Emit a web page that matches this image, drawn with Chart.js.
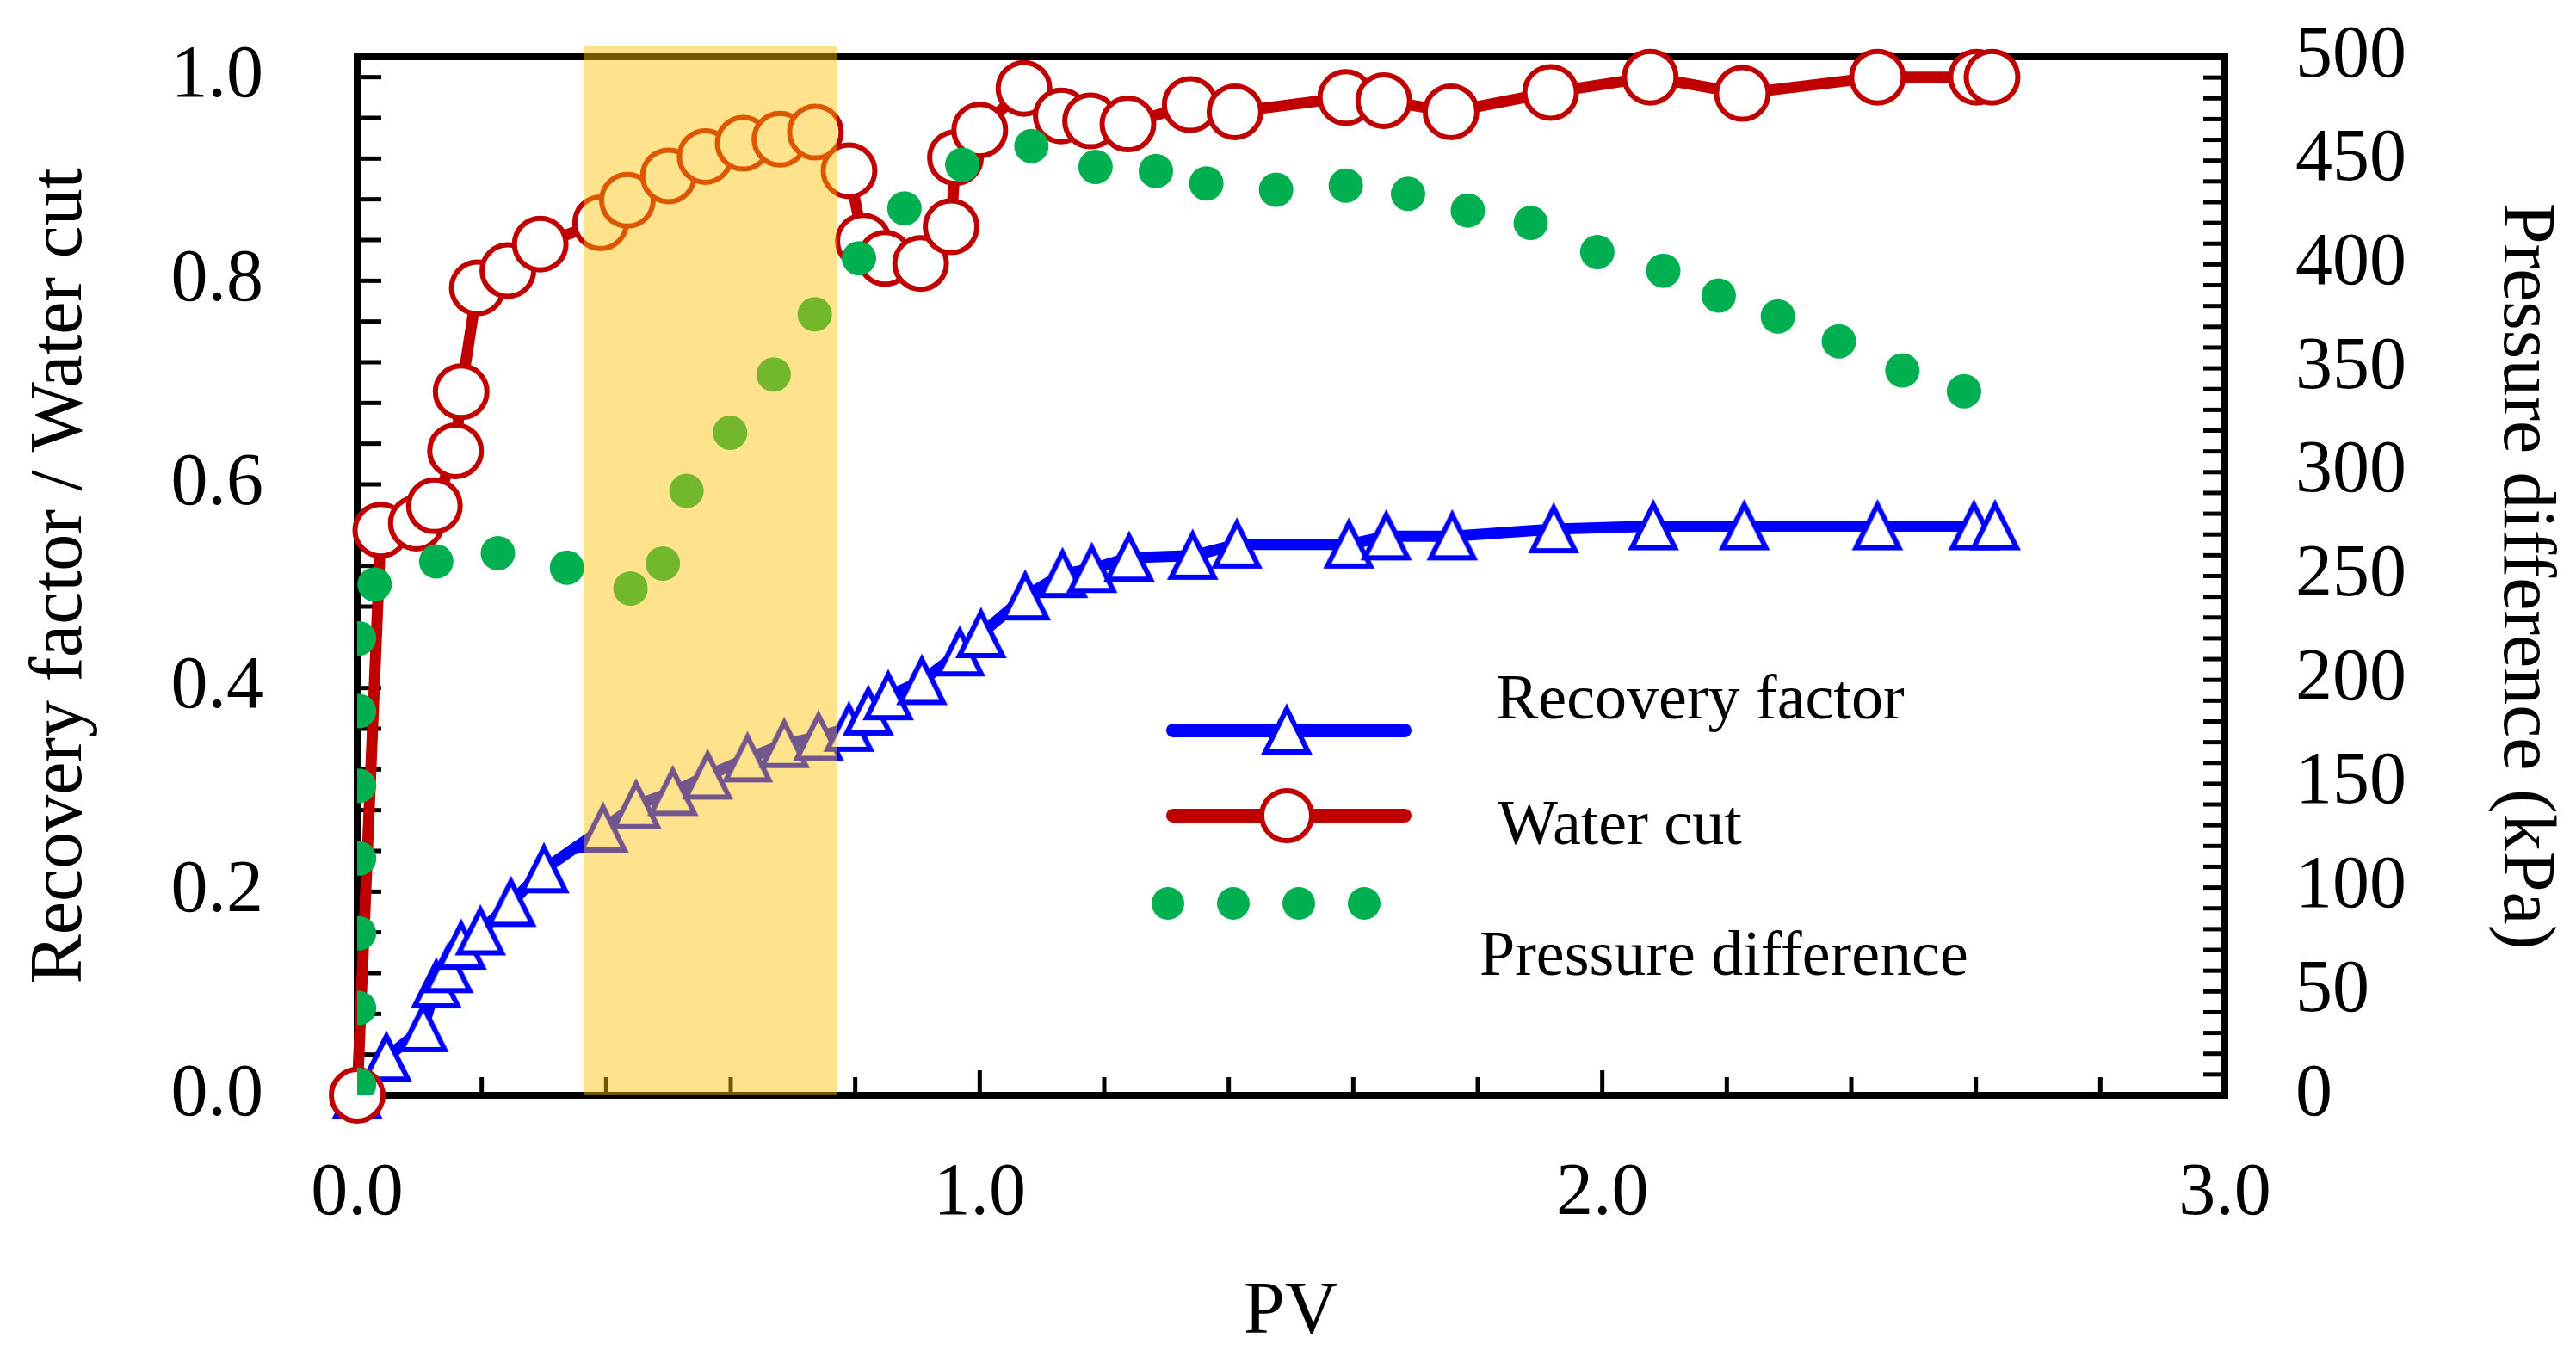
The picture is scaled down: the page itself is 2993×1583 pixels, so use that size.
<!DOCTYPE html>
<html>
<head>
<meta charset="utf-8">
<script src="https://cdn.jsdelivr.net/npm/chart.js@4.4.1/dist/chart.umd.min.js"></script>
<style>
  html, body { margin: 0; padding: 0; background: #fff; }
  #wrap { width: 2993px; height: 1583px; }
</style>
</head>
<body>
<div id="wrap"><canvas id="chart" width="2993" height="1583"></canvas></div>
<script>
// values
const pvRecovery = [0, 0.047, 0.106, 0.127, 0.146, 0.167, 0.198, 0.247, 0.300, 0.395, 0.448, 0.507,
    0.563, 0.627, 0.686, 0.741, 0.790, 0.821, 0.853, 0.907, 0.968, 1.002, 1.073, 1.133, 1.180,
    1.240, 1.342, 1.413, 1.593, 1.653, 1.759, 1.922, 2.082, 2.228, 2.442, 2.597, 2.631];
const recoveryFactor = [0, 0.037, 0.066, 0.109, 0.124, 0.147, 0.161, 0.189, 0.222, 0.262, 0.285, 0.298,
    0.314, 0.331, 0.345, 0.352, 0.361, 0.377, 0.392, 0.407, 0.435, 0.453, 0.490, 0.512, 0.517,
    0.528, 0.530, 0.541, 0.541, 0.549, 0.549, 0.556, 0.559, 0.559, 0.559, 0.559, 0.559];

const pvWaterCut = [0, 0.038, 0.095, 0.124, 0.158, 0.167, 0.193, 0.242, 0.294, 0.391, 0.434, 0.500,
    0.559, 0.620, 0.679, 0.736, 0.790, 0.813, 0.848, 0.905, 0.954, 0.961, 1.000, 1.071, 1.131,
    1.178, 1.238, 1.338, 1.410, 1.588, 1.649, 1.757, 1.917, 2.077, 2.225, 2.442, 2.601, 2.626];
const waterCut = [0, 0.555, 0.562, 0.579, 0.633, 0.691, 0.793, 0.810, 0.836, 0.857, 0.879, 0.903,
    0.922, 0.935, 0.939, 0.946, 0.908, 0.839, 0.822, 0.817, 0.853, 0.921, 0.948, 0.989, 0.962,
    0.957, 0.954, 0.973, 0.966, 0.980, 0.977, 0.966, 0.985, 1.000, 0.984, 1.000, 1.000, 1.000];

const pvPressure = [0.003, 0.003, 0.003, 0.003, 0.003, 0.003, 0.003, 0.028, 0.127, 0.226, 0.337, 0.439,
    0.491, 0.529, 0.599, 0.669, 0.735, 0.806, 0.879, 0.972, 1.083, 1.186, 1.283, 1.364, 1.476,
    1.588, 1.688, 1.784, 1.885, 1.992, 2.098, 2.187, 2.282, 2.380, 2.482, 2.581];
const pressureDiff = [5, 42, 78, 114, 149, 185, 220, 246, 257, 261, 254, 244,
    256, 291, 319, 347, 376, 403, 427, 448, 457, 447, 445, 439, 436,
    438, 434, 426, 420, 406, 397, 385, 375, 363, 349, 339];

const highlightPV = [0.365, 0.77];

const SERIF = "'Liberation Serif', 'Times New Roman', serif";
const BLUE = '#0000FF', RED = '#C00000', GREEN = '#00B050';

function isMultiple(v, step) {
    const q = v / step;
    return Math.abs(q - Math.round(q)) < 1e-6;
}

function pts(xs, ys) {
    return xs.map((x, i) => ({ x: x, y: ys[i] }));
}

// triangle marker centred on its bounding box, like the original plot
const triangleMarker = (function () {
    const c = document.createElement('canvas');
    c.width = 76; c.height = 76;
    const g = c.getContext('2d');
    g.beginPath();
    g.moveTo(38, 13);
    g.lineTo(63, 63);
    g.lineTo(13, 63);
    g.closePath();
    g.fillStyle = '#fff';
    g.fill();
    g.lineWidth = 6;
    g.strokeStyle = BLUE;
    g.stroke();
    return c;
})();

const frameAndTicks = {
    id: 'frameAndTicks',
    beforeDatasetsDraw(chart) {
        const { ctx, chartArea: a, scales: { x, y, y1 } } = chart;
        ctx.save();
        ctx.strokeStyle = '#000';
        ctx.lineWidth = 5;
        x.ticks.forEach(t => {
            if (!isMultiple(t.value, 0.2)) return;
            const px = x.getPixelForValue(t.value);
            const len = isMultiple(t.value, 1) ? 29 : 21;
            ctx.beginPath(); ctx.moveTo(px, a.bottom); ctx.lineTo(px, a.bottom - len); ctx.stroke();
        });
        y.ticks.forEach(t => {
            if (!isMultiple(t.value, 0.04)) return;
            const py = y.getPixelForValue(t.value);
            ctx.beginPath(); ctx.moveTo(a.left, py); ctx.lineTo(a.left + 28, py); ctx.stroke();
        });
        y1.ticks.forEach(t => {
            const py = y1.getPixelForValue(t.value);
            ctx.beginPath(); ctx.moveTo(a.right, py); ctx.lineTo(a.right - 25, py); ctx.stroke();
        });
        ctx.lineWidth = 8;
        ctx.strokeRect(a.left, a.top, a.right - a.left, a.bottom - a.top);
        ctx.restore();
    }
};

const shadedWindow = {
    id: 'shadedWindow',
    afterDraw(chart) {
        const { ctx, chartArea: a, scales: { x } } = chart;
        const x1 = x.getPixelForValue(highlightPV[0]);
        const x2 = x.getPixelForValue(highlightPV[1]);
        ctx.save();
        ctx.fillStyle = 'rgba(255, 192, 0, 0.45)';
        ctx.fillRect(x1, a.top - 12, x2 - x1, a.bottom - a.top + 12);
        ctx.restore();
    }
};

const insideLegend = {
    id: 'insideLegend',
    afterDraw(chart) {
        const { ctx, chartArea: a } = chart;
        const ds = chart.data.datasets;
        const L = a.left, T = a.top;
        ctx.save();
        ctx.lineCap = 'round';
        ctx.lineWidth = 16;
        // recovery factor
        ctx.strokeStyle = BLUE;
        ctx.beginPath(); ctx.moveTo(L + 948, T + 783); ctx.lineTo(L + 1217, T + 783); ctx.stroke();
        ctx.drawImage(triangleMarker, L + 1080 - 38, T + 783 - 38);
        // water cut
        ctx.strokeStyle = RED;
        ctx.beginPath(); ctx.moveTo(L + 948, T + 882); ctx.lineTo(L + 1217, T + 882); ctx.stroke();
        ctx.beginPath(); ctx.arc(L + 1080, T + 882, 29, 0, Math.PI * 2);
        ctx.fillStyle = '#fff'; ctx.fill();
        ctx.lineWidth = 6; ctx.stroke();
        // pressure difference
        ctx.fillStyle = GREEN;
        [942, 1018, 1094, 1170].forEach(dx => {
            ctx.beginPath(); ctx.arc(L + dx, T + 984, 19, 0, Math.PI * 2); ctx.fill();
        });
        ctx.fillStyle = '#000';
        ctx.font = '74px ' + SERIF;
        ctx.textBaseline = 'middle';
        ctx.textAlign = 'left';
        ctx.fillText(ds[0].label, L + 1323, T + 750);
        ctx.fillText(ds[1].label, L + 1325, T + 896);
        ctx.fillText(ds[2].label, L + 1304, T + 1048);
        ctx.restore();
    }
};

const tickFont = { family: SERIF, size: 86 };
const titleFont = { family: SERIF, size: 86 };

// invisible tick marks used only as label offset (inward ticks are drawn by the plugin)
function spacer(len) {
    return { display: true, drawOnChartArea: false, drawTicks: true, tickLength: len, color: 'rgba(0,0,0,0)' };
}

new Chart(document.getElementById('chart').getContext('2d'), {
    type: 'scatter',
    data: {
        datasets: [
            {
                label: 'Recovery factor',
                data: pts(pvRecovery, recoveryFactor),
                yAxisID: 'y',
                showLine: true,
                borderColor: BLUE,
                borderWidth: 13,
                borderJoinStyle: 'round',
                borderCapStyle: 'round',
                pointStyle: triangleMarker,
                pointRadius: 30,
                clip: false,
                order: 3
            },
            {
                label: 'Water cut',
                data: pts(pvWaterCut, waterCut),
                yAxisID: 'y',
                showLine: true,
                borderColor: RED,
                borderWidth: 13,
                borderJoinStyle: 'round',
                borderCapStyle: 'round',
                pointStyle: 'circle',
                pointRadius: 30,
                pointBorderWidth: 6,
                pointBorderColor: RED,
                pointBackgroundColor: '#fff',
                clip: false,
                order: 2
            },
            {
                label: 'Pressure difference',
                data: pts(pvPressure, pressureDiff),
                yAxisID: 'y1',
                showLine: false,
                pointStyle: 'circle',
                pointRadius: 20,
                pointBorderWidth: 0,
                pointBackgroundColor: GREEN,
                pointBorderColor: GREEN,
                clip: 0,
                order: 1
            }
        ]
    },
    options: {
        responsive: false,
        animation: false,
        devicePixelRatio: 1,
        layout: { padding: { top: 66, left: 0, right: 0, bottom: 0 } },
        scales: {
            x: {
                type: 'linear',
                min: 0,
                max: 3.0,
                grid: spacer(64),
                border: { display: false },
                ticks: {
                    stepSize: 0.2,
                    autoSkip: false,
                    maxRotation: 0,
                    padding: 0,
                    color: '#000',
                    font: tickFont,
                    callback: v => isMultiple(v, 1) ? v.toFixed(1) : ''
                },
                title: { display: true, text: 'PV', color: '#000', font: titleFont, padding: { top: 0, bottom: 5 } },
                afterFit: s => { s.height = 310; }
            },
            y: {
                position: 'left',
                min: 0,
                max: 1.02,
                grid: spacer(109),
                border: { display: false },
                ticks: {
                    stepSize: 0.04,
                    includeBounds: false,
                    autoSkip: false,
                    padding: 0,
                    color: '#000',
                    font: tickFont,
                    callback: v => isMultiple(v, 0.2) ? v.toFixed(1) : ''
                },
                title: { display: true, text: 'Recovery factor / Water cut', color: '#000', font: titleFont, padding: { top: 20, bottom: 0 } },
                afterFit: s => { s.width = 415; }
            },
            y1: {
                position: 'right',
                min: 0,
                max: 500,
                grid: spacer(82),
                border: { display: false },
                ticks: {
                    stepSize: 10,
                    autoSkip: false,
                    padding: 0,
                    color: '#000',
                    font: tickFont,
                    callback: v => isMultiple(v, 50) ? String(v) : ''
                },
                title: { display: true, text: 'Pressure difference (kPa)', color: '#000', font: titleFont, padding: { top: 9, bottom: 0 } },
                afterFit: s => { s.width = 408; }
            }
        },
        plugins: {
            legend: { display: false },
            tooltip: { enabled: false }
        }
    },
    plugins: [frameAndTicks, shadedWindow, insideLegend]
});
</script>
</body>
</html>
